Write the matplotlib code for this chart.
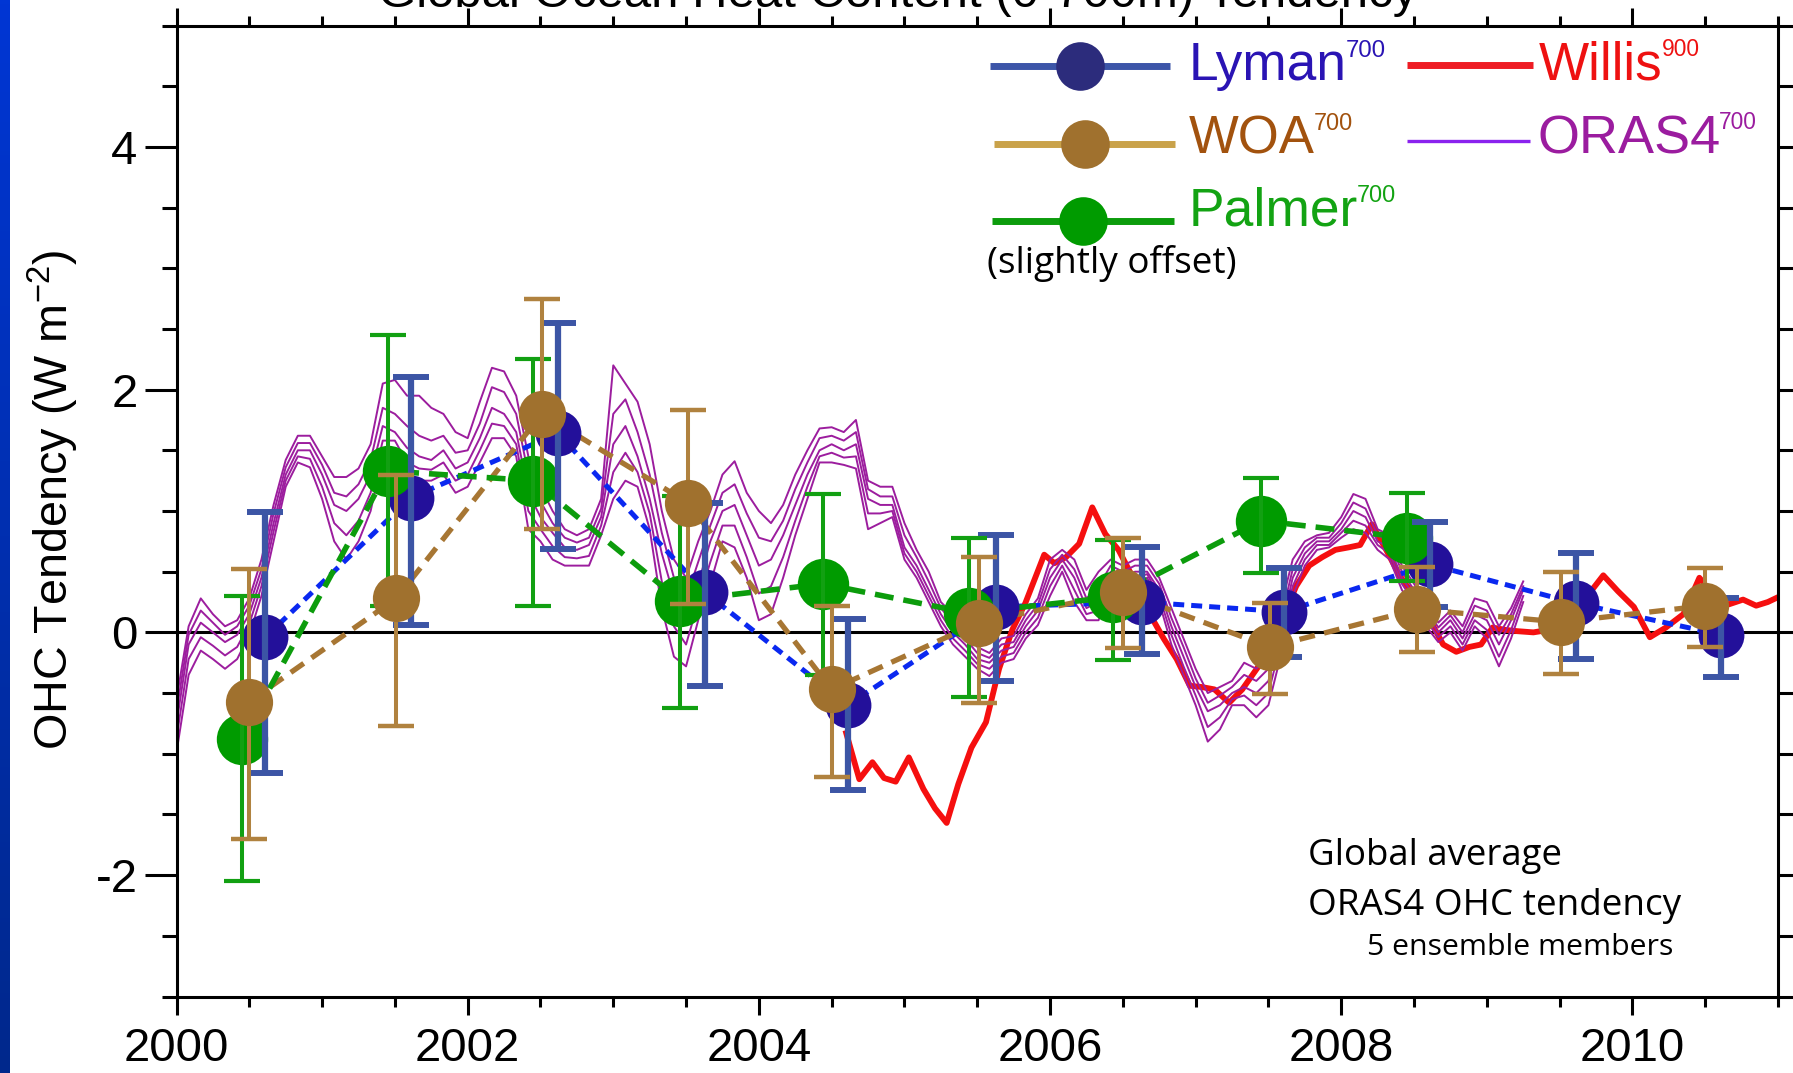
import numpy as np
import matplotlib
matplotlib.use("Agg")
import matplotlib.pyplot as plt
from matplotlib import font_manager
from matplotlib.ticker import MultipleLocator
from matplotlib.colors import LinearSegmentedColormap

# ---------------- data ----------------
lyman_x = [2000.61, 2001.61, 2002.62, 2003.63, 2004.61, 2005.63, 2006.63, 2007.61, 2008.61, 2009.61, 2010.61]
lyman_y = [-0.04, 1.11, 1.64, 0.33, -0.60, 0.21, 0.25, 0.17, 0.56, 0.24, -0.02]
lyman_lo = [-1.155, 0.06, 0.69, -0.44, -1.30, -0.40, -0.18, -0.20, 0.21, -0.22, -0.37]
lyman_hi = [0.99, 2.10, 2.55, 1.07, 0.11, 0.80, 0.70, 0.53, 0.91, 0.65, 0.28]

woa_x = [2000.50, 2001.51, 2002.51, 2003.51, 2004.50, 2005.51, 2006.50, 2007.51, 2008.52, 2009.51, 2010.50]
woa_y = [-0.57, 0.28, 1.80, 1.07, -0.47, 0.08, 0.33, -0.12, 0.19, 0.085, 0.22]
woa_lo = [-1.70, -0.77, 0.85, 0.23, -1.19, -0.58, -0.13, -0.51, -0.165, -0.34, -0.12]
woa_hi = [0.52, 1.30, 2.75, 1.83, 0.22, 0.62, 0.78, 0.24, 0.54, 0.50, 0.53]

pal_x = [2000.45, 2001.45, 2002.45, 2003.46, 2004.44, 2005.44, 2006.43, 2007.45, 2008.45]
pal_y = [-0.88, 1.33, 1.25, 0.26, 0.40, 0.16, 0.29, 0.92, 0.78]
pal_lo = [-2.05, 0.22, 0.22, -0.62, -0.35, -0.53, -0.23, 0.49, 0.42]
pal_hi = [0.30, 2.45, 2.25, 1.12, 1.14, 0.78, 0.76, 1.27, 1.15]

# ORAS4 ensemble members, monthly from Jan 2000
oras_t = 2000 + np.arange(112) / 12.0
oras_m1 = [-0.55, 0.05, 0.28, 0.15, 0.05, 0.10, 0.28, 0.60, 1.05, 1.42,
           1.62, 1.62, 1.45, 1.28, 1.28, 1.35, 1.55, 2.05, 2.08, 1.95,
           1.95, 1.85, 1.80, 1.65, 1.60, 1.90, 2.18, 2.15, 1.95, 1.45,
           1.20, 1.00, 0.85, 0.80, 0.85, 1.10, 2.20, 2.05, 1.90, 1.55,
           1.00, 0.60, 0.45, 0.75, 1.00, 1.30, 1.41, 1.15, 1.00, 0.90,
           1.05, 1.30, 1.50, 1.68, 1.69, 1.65, 1.75, 1.25, 1.20, 1.20,
           0.90, 0.68, 0.50, 0.25, 0.15, 0.00, -0.12, -0.17, -0.05, -0.03,
           0.15, 0.28, 0.60, 0.68, 0.60, 0.35, 0.50, 0.60, 0.55, 0.60,
           0.60, 0.45, 0.20, -0.05, -0.30, -0.50, -0.45, -0.40, -0.25, -0.30,
           -0.20, 0.20, 0.60, 0.75, 0.80, 0.82, 0.95, 1.14, 1.10, 0.85,
           0.80, 0.55, 0.40, 0.25, 0.08, 0.18, 0.05, 0.28, 0.25, 0.05,
           0.20, 0.42]
oras_m2 = [-0.65, -0.02, 0.18, 0.08, -0.02, 0.05, 0.22, 0.52, 0.98, 1.36,
           1.56, 1.56, 1.38, 1.15, 1.12, 1.22, 1.42, 1.85, 1.80, 1.70,
           1.62, 1.58, 1.62, 1.48, 1.50, 1.72, 2.02, 1.98, 1.80, 1.30,
           1.08, 0.90, 0.78, 0.74, 0.78, 1.02, 1.80, 1.92, 1.65, 1.30,
           0.82, 0.45, 0.28, 0.58, 0.88, 1.15, 1.22, 0.98, 0.78, 0.75,
           0.92, 1.18, 1.40, 1.60, 1.62, 1.58, 1.65, 1.18, 1.12, 1.12,
           0.80, 0.62, 0.42, 0.20, 0.08, -0.05, -0.17, -0.21, -0.10, -0.08,
           0.10, 0.23, 0.52, 0.64, 0.52, 0.28, 0.38, 0.55, 0.50, 0.55,
           0.55, 0.40, 0.12, -0.12, -0.38, -0.58, -0.52, -0.45, -0.35, -0.40,
           -0.30, 0.10, 0.52, 0.70, 0.78, 0.78, 0.90, 1.07, 1.02, 0.80,
           0.75, 0.50, 0.35, 0.20, 0.04, 0.14, 0.00, 0.22, 0.18, -0.02,
           0.15, 0.38]
oras_m3 = [-0.75, -0.10, 0.08, 0.00, -0.08, -0.02, 0.15, 0.45, 0.90, 1.30,
           1.50, 1.50, 1.30, 1.05, 1.00, 1.10, 1.30, 1.70, 1.65, 1.52,
           1.45, 1.42, 1.50, 1.35, 1.40, 1.60, 1.85, 1.80, 1.65, 1.15,
           0.95, 0.82, 0.70, 0.68, 0.72, 0.95, 1.55, 1.70, 1.45, 1.10,
           0.65, 0.30, 0.10, 0.40, 0.75, 1.00, 1.05, 0.80, 0.55, 0.60,
           0.80, 1.05, 1.30, 1.50, 1.55, 1.50, 1.55, 1.10, 1.05, 1.05,
           0.70, 0.55, 0.35, 0.15, 0.00, -0.10, -0.22, -0.25, -0.15, -0.12,
           0.05, 0.18, 0.45, 0.60, 0.45, 0.20, 0.25, 0.50, 0.45, 0.50,
           0.50, 0.35, 0.05, -0.20, -0.45, -0.65, -0.60, -0.50, -0.45, -0.50,
           -0.40, 0.00, 0.45, 0.65, 0.75, 0.75, 0.85, 1.00, 0.95, 0.75,
           0.70, 0.45, 0.30, 0.15, 0.00, 0.10, -0.05, 0.15, 0.10, -0.10,
           0.10, 0.35]
oras_m4 = [-0.87, -0.22, -0.04, -0.11, -0.19, -0.12, 0.07, 0.38, 0.83, 1.25,
           1.45, 1.43, 1.20, 0.90, 0.80, 0.92, 1.15, 1.58, 1.58, 1.40,
           1.35, 1.34, 1.40, 1.25, 1.30, 1.50, 1.72, 1.70, 1.55, 1.00,
           0.85, 0.71, 0.62, 0.61, 0.63, 0.88, 1.32, 1.48, 1.32, 0.98,
           0.42, 0.05, -0.10, 0.25, 0.58, 0.88, 0.88, 0.62, 0.32, 0.38,
           0.62, 0.92, 1.20, 1.45, 1.48, 1.44, 1.45, 0.98, 0.98, 1.00,
           0.65, 0.50, 0.30, 0.10, -0.05, -0.15, -0.26, -0.30, -0.20, -0.17,
           0.00, 0.12, 0.38, 0.55, 0.35, 0.15, 0.18, 0.45, 0.40, 0.45,
           0.48, 0.30, -0.02, -0.28, -0.52, -0.78, -0.70, -0.55, -0.52, -0.60,
           -0.50, -0.10, 0.38, 0.60, 0.72, 0.72, 0.82, 0.92, 0.88, 0.72,
           0.65, 0.40, 0.25, 0.10, -0.04, 0.05, -0.10, 0.10, 0.02, -0.20,
           0.02, 0.30]
oras_m5 = [-0.99, -0.35, -0.15, -0.22, -0.30, -0.22, -0.02, 0.30, 0.75, 1.20,
           1.40, 1.36, 1.10, 0.75, 0.60, 0.75, 1.00, 1.45, 1.50, 1.20,
           1.25, 1.25, 1.30, 1.15, 1.20, 1.40, 1.60, 1.60, 1.45, 0.85,
           0.75, 0.60, 0.55, 0.55, 0.55, 0.80, 1.10, 1.25, 1.20, 0.85,
           0.20, -0.20, -0.28, 0.10, 0.40, 0.75, 0.70, 0.45, 0.10, 0.15,
           0.45, 0.80, 1.10, 1.40, 1.40, 1.38, 1.35, 0.85, 0.90, 0.95,
           0.60, 0.45, 0.25, 0.05, -0.10, -0.20, -0.30, -0.36, -0.25, -0.22,
           -0.05, 0.06, 0.30, 0.50, 0.25, 0.10, 0.10, 0.40, 0.35, 0.40,
           0.45, 0.25, -0.10, -0.35, -0.60, -0.90, -0.80, -0.60, -0.60, -0.70,
           -0.60, -0.20, 0.30, 0.55, 0.68, 0.70, 0.78, 0.85, 0.82, 0.68,
           0.60, 0.35, 0.20, 0.05, -0.08, 0.00, -0.15, 0.05, -0.05, -0.28,
           -0.05, 0.25]
oras_members = [oras_m1, oras_m2, oras_m3, oras_m4, oras_m5]

willis_t = [2004.60, 2004.69, 2004.78, 2004.86, 2004.94, 2005.03, 2005.13, 2005.21, 2005.29, 2005.37,
            2005.46, 2005.56, 2005.65, 2005.74, 2005.83, 2005.96, 2006.03, 2006.11, 2006.20, 2006.29,
            2006.38, 2006.47, 2006.57, 2006.68, 2006.78, 2006.87, 2006.96, 2007.04, 2007.13, 2007.23,
            2007.32, 2007.42, 2007.52, 2007.61, 2007.69, 2007.78, 2007.87, 2007.96, 2008.05, 2008.13,
            2008.21, 2008.30, 2008.40, 2008.50, 2008.60, 2008.70, 2008.79, 2008.88, 2008.96, 2009.04,
            2009.13, 2009.21, 2009.32, 2009.42, 2009.52, 2009.61, 2009.69, 2009.80, 2009.90, 2010.01,
            2010.12, 2010.23, 2010.35, 2010.46, 2010.56, 2010.66, 2010.76, 2010.85, 2010.93, 2011.00]
willis_v = [-0.83, -1.21, -1.07, -1.20, -1.23, -1.03, -1.29, -1.45, -1.57, -1.25,
            -0.95, -0.74, -0.30, 0.02, 0.24, 0.64, 0.57, 0.62, 0.73, 1.03,
            0.81, 0.68, 0.45, 0.16, -0.05, -0.22, -0.44, -0.45, -0.47, -0.58,
            -0.47, -0.30, -0.14, 0.15, 0.38, 0.55, 0.62, 0.68, 0.70, 0.72,
            0.89, 0.70, 0.47, 0.30, 0.12, -0.10, -0.16, -0.12, -0.10, 0.04,
            0.02, 0.01, 0.00, 0.02, 0.05, 0.20, 0.30, 0.47, 0.34, 0.21,
            -0.04, 0.04, 0.15, 0.45, 0.30, 0.23, 0.27, 0.22, 0.25, 0.29]

x_ticks = [2000, 2002, 2004, 2006, 2008, 2010]
y_ticks = [-2, 0, 2, 4]

# ---------------- style ----------------
names = {f.name for f in font_manager.fontManager.ttflist}
SANS = 'Liberation Sans'
YLAB_FONT = 'Liberation Sans Narrow' if 'Liberation Sans Narrow' in names else SANS
HUM = 'Open Sans' if 'Open Sans' in names else 'DejaVu Sans'

plt.rcParams['font.family'] = [SANS, 'DejaVu Sans']
plt.rcParams['mathtext.fontset'] = 'custom'
plt.rcParams['mathtext.rm'] = SANS
plt.rcParams['mathtext.it'] = SANS + ':italic'
plt.rcParams['axes.unicode_minus'] = False

W, H = 1793, 1073
fig = plt.figure(figsize=(W / 100, H / 100), dpi=100)
fig.patch.set_facecolor('white')
L, R, T, B = 176.5, 1778.0, 25.5, 996.5
ax = fig.add_axes([L / W, 1 - B / H, (R - L) / W, (B - T) / H])


def fx(px):
    return (px - L) / (R - L)


def fy(py):
    return (B - py) / (B - T)


# blue strip at the left edge
sax = fig.add_axes([0, 0, 10 / W, 1])
grad = np.linspace(0, 1, 256).reshape(-1, 1)
sax.imshow(grad, aspect='auto', origin='upper',
           cmap=LinearSegmentedColormap.from_list('strip', ['#0036d4', '#00288c']))
sax.axis('off')

# axes
ax.set_xlim(2000, 2011)
ax.set_ylim(-3, 5)
ax.set_xticks(x_ticks)
ax.set_xticklabels([str(v) for v in x_ticks])
ax.xaxis.set_minor_locator(MultipleLocator(0.5))
ax.set_yticks(y_ticks)
ax.set_yticklabels([str(v) for v in y_ticks])
ax.yaxis.set_minor_locator(MultipleLocator(0.5))
for s in ax.spines.values():
    s.set_linewidth(2.2)
ax.tick_params(which='both', direction='out', top=True, right=True, width=2.2,
               labelsize=34, colors='black')
ax.tick_params(axis='x', which='major', length=13, pad=9)
ax.tick_params(axis='x', which='minor', length=7)
ax.tick_params(axis='y', which='major', length=23, pad=5)
ax.tick_params(axis='y', which='minor', length=11)

ax.axhline(0, color='black', lw=2.2, zorder=1.5)

# Willis (red) and ORAS4 ensemble (purple)
ax.plot(willis_t, willis_v, color='#f50f0f', lw=4.2, zorder=2, solid_joinstyle='round')
for m in oras_members:
    ax.plot(oras_t, m, color='#9c1d9e', lw=1.4, zorder=2.5)

# connecting dashed lines
ax.plot(lyman_x, lyman_y, color='#0a28f0', lw=3.6, dashes=(2.2, 1.4), zorder=3)
ax.plot(woa_x, woa_y, color='#a77633', lw=3.8, dashes=(3.0, 1.8), zorder=3)
ax.plot(pal_x, pal_y, color='#0c9c0c', lw=4.0, dashes=(3.4, 1.8), zorder=3)


def errbars(x, y, lo, hi, color, lw, cap, ct, z):
    y = np.asarray(y)
    err = [y - np.asarray(lo), np.asarray(hi) - y]
    ax.errorbar(x, y, yerr=err, fmt='none', ecolor=color, elinewidth=lw,
                capsize=cap, capthick=ct, zorder=z)


ax.plot(lyman_x, lyman_y, 'o', ms=33, color='#23109a', mec='none', zorder=4)
ax.plot(pal_x, pal_y, 'o', ms=37, color='#009b00', mec='none', zorder=4.2)
errbars(lyman_x, lyman_y, lyman_lo, lyman_hi, '#3c55a5', 4.5, 13, 4.3, 4.5)
errbars(pal_x, pal_y, pal_lo, pal_hi, '#12a012', 2.9, 13, 3.0, 4.6)
errbars(woa_x, woa_y, woa_lo, woa_hi, '#b0823f', 2.9, 13, 3.2, 4.8)
ax.plot(woa_x, woa_y, 'o', ms=34, color='#a0712e', mec='none', zorder=5)

# ---------------- legend (drawn by hand) ----------------
def leg_line(x0, x1, y, color, lw, mcolor=None):
    ax.plot([fx(x0), fx(x1)], [fy(y), fy(y)], transform=ax.transAxes, color=color,
            lw=lw, clip_on=False, zorder=6, solid_capstyle='butt')
    if mcolor is not None:
        ax.plot([fx((x0 + x1) / 2)], [fy(y)], 'o', ms=35, color=mcolor, mec='none',
                transform=ax.transAxes, clip_on=False, zorder=7)


leg_line(990, 1170, 66, '#3c55a8', 5.0, '#2c2c7c')
leg_line(994, 1175, 144, '#c9a24a', 5.0, '#a0712e')
leg_line(992, 1174, 221, '#0c9c0c', 5.0, '#009b00')
leg_line(1407, 1533, 65, '#ee1c24', 5.0)
leg_line(1407, 1530, 141, '#8a22ee', 2.4)

fit_list = []   # (text, target_px, rotated)
sup_list = []   # (text, sup string, color, target width px)


def word(px, py, s, color, target, sup, sup_target):
    t = ax.text(fx(px), fy(py), s, transform=ax.transAxes, color=color, fontsize=36,
                ha='left', va='baseline', zorder=8)
    fit_list.append((t, target, False))
    sup_list.append((t, sup, color, sup_target))


word(1189, 80, 'Lyman', '#2a14b4', 158, '700', 40)
word(1189, 153, 'WOA', '#a2520e', 126, '700', 39)
word(1189, 225, 'Palmer', '#13a313', 169, '700', 39)
word(1539, 80, 'Willis', '#ee1111', 124, '900', 38)
word(1537, 153, 'ORAS4', '#9b1c9f', 183, '700', 38)

t = ax.text(fx(987), fy(273), '(slightly offset)', transform=ax.transAxes, fontsize=25,
            family=HUM, color='black', ha='left', va='baseline')
fit_list.append((t, 251, False))
t = ax.text(fx(1308), fy(865), 'Global average', transform=ax.transAxes, fontsize=26,
            family=HUM, color='black', ha='left', va='baseline')
fit_list.append((t, 255, False))
t = ax.text(fx(1308), fy(915), 'ORAS4 OHC tendency', transform=ax.transAxes, fontsize=26,
            family=HUM, color='black', ha='left', va='baseline')
fit_list.append((t, 374, False))
t = ax.text(fx(1367), fy(955), '5 ensemble members', transform=ax.transAxes, fontsize=21,
            family=HUM, color='black', ha='left', va='baseline')
fit_list.append((t, 306, False))

# title (cut off at the top of the figure, as in the reference) and y label
t = fig.text(897.5 / W, 1 - 7 / H, 'Global Ocean Heat Content (0-700m) Tendency',
             fontsize=35, ha='center', va='baseline', color='black')
fit_list.append((t, 1041, False))
t = fig.text(68 / W, 1 - 499.5 / H, r'OHC Tendency (W m$^{\mathregular{-2}}$)',
             fontsize=35, family=YLAB_FONT, rotation=90, rotation_mode='anchor',
             ha='center', va='baseline', color='black')
fit_list.append((t, 501, True))

# fit text sizes to the measured widths
fig.canvas.draw()
r = fig.canvas.get_renderer()
for t, target, rot in fit_list:
    bb = t.get_window_extent(r)
    w = bb.height if rot else bb.width
    if w > 0:
        t.set_fontsize(t.get_fontsize() * target / w)
fig.canvas.draw()
r = fig.canvas.get_renderer()

# superscripts right after the legend words
for t, sup, color, starget in sup_list:
    bb = t.get_window_extent(r)
    xb, yb = t.get_transform().transform(t.get_position())
    size = t.get_fontsize()
    ssize = starget / 1.668 * 0.72
    cap_main = 0.716 * size * 100 / 72
    cap_sup = 0.716 * ssize * 100 / 72
    fig.text((bb.x1 - 1) / W, (yb + cap_main - cap_sup + 2) / H, sup, fontsize=ssize,
             color=color, ha='left', va='baseline')

fig.savefig('out.png', dpi=100, facecolor='white')
